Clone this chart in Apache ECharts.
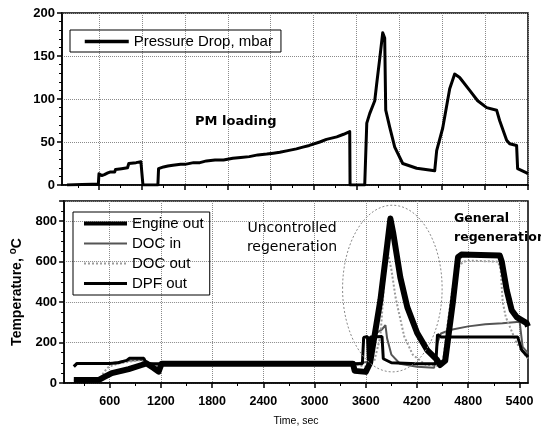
<!DOCTYPE html>
<html>
<head>
<meta charset="utf-8">
<script src="https://cdn.jsdelivr.net/npm/echarts@6/dist/echarts.min.js"></script>
<style>
  html, body { margin: 0; padding: 0; background: #fff; }
  #main { width: 541px; height: 430px; }
</style>
</head>
<body>
<div id="main"></div>
<script>
// time axis ticks (sec)
var pressureTicks = [500, 1000, 1500, 2000, 2500, 3000, 3500, 4000, 4500, 5000, 5500];
var pressureMinorTicks = [250, 750, 1250, 1750, 2250, 2750, 3250, 3750, 4250, 4750, 5250];
var timeTicks = [600, 1200, 1800, 2400, 3000, 3600, 4200, 4800, 5400];
var timeMinorTicks = [300, 900, 1500, 2100, 2700, 3300, 3900, 4500, 5100];

// pressure drop, mbar
var pressureTime = [124, 300, 420, 490, 497, 530, 560, 600, 625, 680, 690, 707, 760, 830, 845, 858, 930, 986, 1005, 1010,
  1184, 1192, 1250, 1300, 1359, 1450, 1500, 1600, 1674, 1750, 1850, 1950, 2058, 2150, 2250, 2350, 2454, 2530, 2606,
  2700, 2800, 2874, 2950, 3072, 3150, 3270, 3350, 3421, 3425, 3596, 3620, 3654, 3713, 3736, 3771, 3806, 3829, 3841,
  3888, 3946, 4039, 4202, 4412, 4435, 4505, 4587, 4645, 4703, 4820, 4913, 5018, 5134, 5169, 5251, 5286, 5367, 5379, 5484, 5500];
var pressureDrop = [0, 0.5, 1, 1, 13, 11, 12, 14, 15, 15, 18, 19, 19, 20, 25, 26, 26, 27, 27, 0,
  0, 19, 21, 22, 23, 24, 24, 26, 26, 28, 29, 29, 31, 32, 33, 35, 36, 37, 38,
  40, 42, 44, 46, 50, 53, 56, 59, 62, 0, 0, 72, 83, 98, 118, 147, 177, 171, 87,
  67, 44, 25, 19.5, 16.5, 40, 66, 112, 129, 125, 110, 98, 90, 87, 75, 52, 48, 46, 19, 14, 13];

// temperatures, oC
var engineTime = [180, 217, 600, 700, 800, 830, 1000, 1030, 1200, 2000, 3000, 3560, 3575, 3620, 3630, 3655, 3790, 3805,
  3900, 4200, 4420, 4440, 4480, 5379, 5426, 5500];
var engineOut = [81, 97, 97, 100, 112, 122, 122, 97, 95, 95, 95, 95, 225, 230, 110, 228, 230, 120,
  100, 95, 95, 240, 228, 228, 163, 128];

var docInTime = [180, 217, 600, 800, 1000, 1050, 1150, 1200, 3450, 3640, 3700, 3790, 3830, 3850, 3900, 4000, 4200, 4400,
  4440, 4480, 4586, 4800, 5000, 5200, 5402, 5437, 5500];
var docIn = [85, 95, 97, 110, 115, 100, 90, 95, 95, 105, 240, 265, 286, 220, 140, 95, 80, 75,
  200, 245, 262, 280, 290, 296, 303, 179, 148];

var docOutTime = [180, 480, 532, 590, 707, 940, 1030, 1150, 1200, 3450, 3600, 3700, 3771, 3800, 3830, 3860, 3900, 3950,
  4050, 4150, 4300, 4440, 4505, 4560, 4620, 4680, 4738, 4819, 5150, 5180, 5204, 5240, 5367, 5484, 5500];
var docOut = [15, 15, 54, 81, 97, 113, 100, 85, 95, 95, 80, 110, 230, 400, 600, 640, 560, 420,
  230, 140, 90, 85, 110, 300, 480, 570, 600, 605, 600, 560, 400, 326, 197, 128, 120];

var dpfTime = [180, 474, 544, 625, 823, 975, 1033, 1115, 1173, 1208, 3450, 3470, 3600, 3650, 3771, 3853, 3888, 3922,
  4004, 4086, 4202, 4319, 4435, 4470, 4530, 4552, 4620, 4680, 4720, 5170, 5193, 5251, 5309, 5367, 5484, 5500];
var dpfOut = [15, 15, 31, 49, 69, 89, 97, 74, 56, 95, 95, 60, 55, 99, 410, 691, 813, 740,
  523, 375, 247, 163, 114, 89, 110, 114, 400, 622, 635, 630, 600, 459, 360, 326, 296, 280];

function pairs(ts, vs) {
  return ts.map(function (t, i) { return [t, vs[i]]; });
}

var FONT = 'Liberation Sans, Arial, sans-serif';
var gridLine = { show: true, lineStyle: { color: '#8a8a8a', type: 'dotted', width: 1 } };
var blackAxis = { show: true, lineStyle: { color: '#000', width: 1.5 } };
var noSymbol = { color: 'transparent', borderWidth: 0, opacity: 0 };

var myChart = echarts.init(document.getElementById('main'));
var option = {
  animation: false,
  backgroundColor: '#fff',
  grid: [
    { left: 62, right: 13, top: 13, height: 172, show: true, borderColor: '#000', borderWidth: 1.5 },
    { left: 62, right: 13, top: 201, height: 182, show: true, borderColor: '#000', borderWidth: 1.5 }
  ],
  legend: [
    {
      left: 70, top: 30, selectedMode: false,
      data: [{ name: 'Pressure Drop, mbar', lineStyle: { width: 3.5 } }],
      itemWidth: 44, itemHeight: 14,
      itemStyle: noSymbol,
      padding: [4, 8, 3, 13],
      borderColor: '#000', borderWidth: 1,
      textStyle: { fontFamily: FONT, fontSize: 15, color: '#000' }
    },
    {
      left: 73, top: 212, orient: 'vertical', selectedMode: false,
      data: [
        { name: 'Engine out', lineStyle: { width: 4 } },
        { name: 'DOC in', lineStyle: { width: 2 } },
        { name: 'DOC out', lineStyle: { width: 2 } },
        { name: 'DPF out', lineStyle: { width: 3 } }
      ],
      itemWidth: 43, itemHeight: 15, itemGap: 5,
      itemStyle: noSymbol,
      padding: [4, 6, 4, 9],
      borderColor: '#000', borderWidth: 1,
      textStyle: { fontFamily: FONT, fontSize: 15, color: '#000' }
    }
  ],
  xAxis: [
    {
      gridIndex: 0, type: 'value', min: 66, max: 5500,
      axisLine: blackAxis,
      axisTick: { show: true, length: 5, customValues: pressureTicks, lineStyle: { color: '#000', width: 1.5 } },
      axisLabel: { show: false },
      splitLine: gridLine
    },
    {
      gridIndex: 0, type: 'value', min: 66, max: 5500, position: 'bottom',
      axisLine: { show: false },
      axisTick: { show: true, length: 3, customValues: pressureMinorTicks, lineStyle: { color: '#000', width: 1 } },
      axisLabel: { show: false },
      splitLine: { show: false }
    },
    {
      gridIndex: 1, type: 'value', min: 66, max: 5500,
      name: 'Time, sec', nameLocation: 'middle', nameGap: 33,
      nameTextStyle: { fontFamily: FONT, fontSize: 10.5, color: '#000' },
      axisLine: blackAxis,
      axisTick: { show: true, length: 5, customValues: timeTicks, lineStyle: { color: '#000', width: 1.5 } },
      axisLabel: {
        customValues: timeTicks, margin: 12, fontFamily: FONT, fontSize: 12.5, fontWeight: 'bold', color: '#000',
        formatter: function (v) { return String(v); }
      },
      splitLine: gridLine
    },
    {
      gridIndex: 1, type: 'value', min: 66, max: 5500, position: 'bottom',
      axisLine: { show: false },
      axisTick: { show: true, length: 3, customValues: timeMinorTicks, lineStyle: { color: '#000', width: 1 } },
      axisLabel: { show: false },
      splitLine: { show: false }
    }
  ],
  yAxis: [
    {
      gridIndex: 0, type: 'value', min: 0, max: 200, interval: 50,
      axisLine: blackAxis,
      axisTick: { show: true, length: 5, lineStyle: { color: '#000', width: 1.5 } },
      minorTick: { show: true, splitNumber: 5, length: 3, lineStyle: { color: '#000' } },
      axisLabel: { margin: 7, fontFamily: FONT, fontSize: 13, fontWeight: 'bold', color: '#000' },
      splitLine: gridLine
    },
    {
      gridIndex: 1, type: 'value', min: 0, max: 900, interval: 200,
      name: 'Temperature, {s|o}C', nameLocation: 'middle', nameGap: 37,
      nameTextStyle: {
        fontFamily: FONT, fontSize: 14, fontWeight: 'bold', color: '#000',
        rich: { s: { fontFamily: FONT, fontSize: 10, fontWeight: 'bold', color: '#000', padding: [0, 0, 9, 0] } }
      },
      axisLine: blackAxis,
      axisTick: { show: true, length: 5, lineStyle: { color: '#000', width: 1.5 } },
      minorTick: { show: true, splitNumber: 4, length: 3, lineStyle: { color: '#000' } },
      axisLabel: {
        margin: 7, fontFamily: FONT, fontSize: 13, fontWeight: 'bold', color: '#000',
        formatter: function (v) { return v === 900 ? '' : String(v); }
      },
      splitLine: gridLine
    }
  ],
  series: [
    {
      name: 'Pressure Drop, mbar', type: 'line', xAxisIndex: 0, yAxisIndex: 0,
      symbol: 'none', data: pairs(pressureTime, pressureDrop),
      lineStyle: { color: '#000', width: 3, join: 'round' }, itemStyle: { color: '#000' }
    },
    {
      name: 'DOC in', type: 'line', xAxisIndex: 2, yAxisIndex: 1, z: 2,
      symbol: 'none', data: pairs(docInTime, docIn),
      lineStyle: { color: '#555', width: 2 }, itemStyle: { color: '#555' }
    },
    {
      name: 'DOC out', type: 'line', xAxisIndex: 2, yAxisIndex: 1, z: 3,
      symbol: 'none', data: pairs(docOutTime, docOut),
      lineStyle: { color: '#9a9a9a', width: 2, type: 'dotted' }, itemStyle: { color: '#9a9a9a' }
    },
    {
      name: 'Engine out', type: 'line', xAxisIndex: 2, yAxisIndex: 1, z: 4,
      symbol: 'none', data: pairs(engineTime, engineOut),
      lineStyle: { color: '#000', width: 3 }, itemStyle: { color: '#000' }
    },
    {
      name: 'DPF out', type: 'line', xAxisIndex: 2, yAxisIndex: 1, z: 5,
      symbol: 'none', data: pairs(dpfTime, dpfOut),
      lineStyle: { color: '#000', width: 6, join: 'round' }, itemStyle: { color: '#000' }
    }
  ]
};
myChart.setOption(option);

// annotations
var c = myChart.convertToPixel({ xAxisIndex: 2, yAxisIndex: 1 }, [3911, 467]);
var e = myChart.convertToPixel({ xAxisIndex: 2, yAxisIndex: 1 }, [3911 + 583, 467 + 412]);
myChart.setOption({
  graphic: [
    {
      type: 'ellipse', z: 10, silent: true,
      shape: { cx: c[0], cy: c[1], rx: e[0] - c[0], ry: c[1] - e[1] },
      style: { fill: 'none', stroke: '#888', lineWidth: 1, lineDash: [2, 2] }
    },
    {
      type: 'text', x: 195, y: 122, z: 10,
      style: { text: 'PM loading', font: 'bold 13px "DejaVu Sans"', fill: '#000', textVerticalAlign: 'middle' }
    },
    {
      type: 'text', x: 292, y: 238, z: 10,
      style: { text: 'Uncontrolled\nregeneration', font: '14px "DejaVu Sans"', lineHeight: 19, fill: '#000', textAlign: 'center', textVerticalAlign: 'middle' }
    },
    {
      type: 'text', x: 454, y: 228, z: 10,
      style: { text: 'General\nregeneration', font: 'bold 12.5px "DejaVu Sans"', lineHeight: 19, fill: '#000', textVerticalAlign: 'middle' }
    }
  ]
});
</script>
</body>
</html>
